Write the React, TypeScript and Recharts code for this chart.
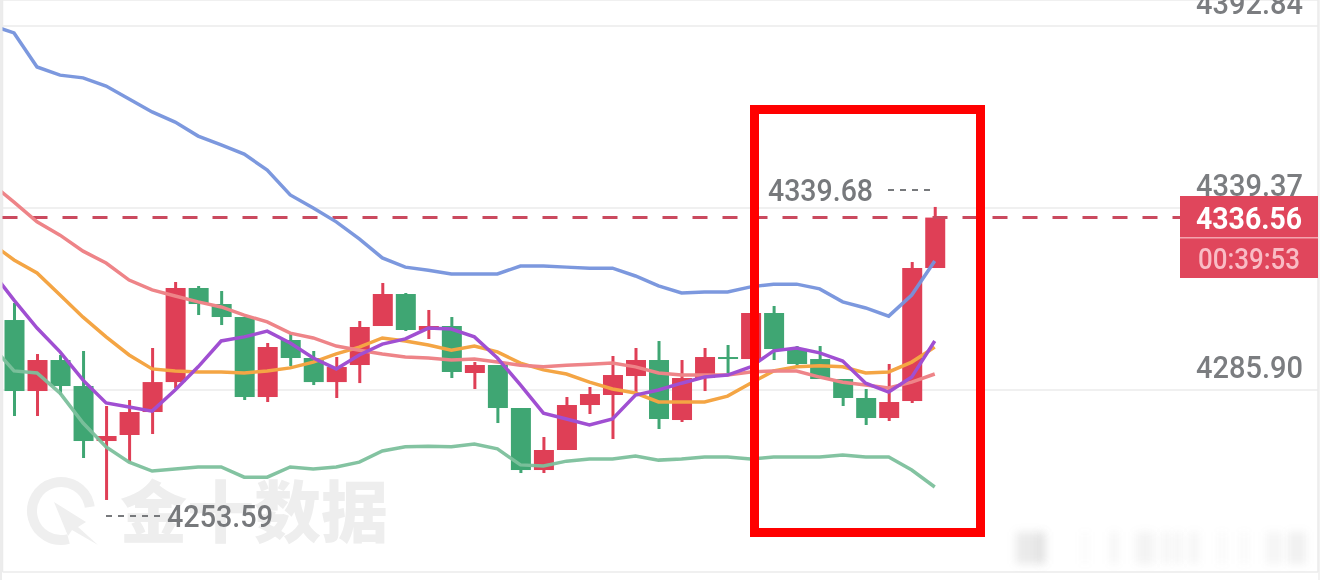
import { ComposedChart, Bar, Line, XAxis, YAxis, CartesianGrid, ReferenceLine } from 'recharts';

const priceTicks = [4392.84, 4339.37, 4285.9, 4232.43];
const gridSlots = [8, 23, 38];
const lastPrice = 4336.56;
const countdown = '00:39:53';
const highLabel = '4339.68';
const lowLabel = '4253.59';

const opens = [
  4306.46, 4285.6, 4294.71, 4287.07, 4270.91, 4272.68, 4279.43, 4288.23, 4315.87, 4311.16, 4307.34,
  4283.84, 4300.59, 4295.3, 4288.23, 4293.24, 4304.7, 4314.1, 4303.53, 4304.7, 4290.89, 4293.24,
  4280.61, 4262.39, 4268.27, 4281.49, 4284.43, 4290.01, 4294.71, 4277.08, 4289.42, 4295.59, 4295.0,
  4308.52, 4297.94, 4295.0, 4289.13, 4283.55, 4277.67, 4282.66, 4321.74,
];
const closes = [
  4285.6, 4294.71, 4287.07, 4270.91, 4272.38, 4279.43, 4288.23, 4315.87, 4311.16, 4307.34, 4283.84,
  4298.53, 4295.3, 4288.23, 4292.65, 4304.41, 4314.1, 4303.53, 4304.7, 4291.19, 4293.24, 4280.61,
  4262.39, 4268.27, 4281.49, 4284.72, 4290.3, 4294.71, 4277.38, 4289.42, 4295.59, 4295.0, 4308.52,
  4297.94, 4293.54, 4289.13, 4283.55, 4277.67, 4282.37, 4321.74, 4336.56,
];
const highs = [
  4311.46, 4296.47, 4296.18, 4297.36, 4281.2, 4282.96, 4298.24, 4317.63, 4316.45, 4314.98, 4307.34,
  4299.71, 4302.65, 4297.36, 4295.59, 4306.17, 4317.34, 4314.4, 4309.41, 4307.34, 4294.12, 4293.24,
  4280.61, 4272.09, 4283.84, 4286.78, 4295.89, 4298.24, 4300.29, 4294.71, 4298.24, 4299.12, 4308.52,
  4310.58, 4298.82, 4298.82, 4289.13, 4286.19, 4293.54, 4323.5, 4339.68,
];
const lows = [
  4278.26, 4278.26, 4284.43, 4265.92, 4253.59, 4264.74, 4272.97, 4286.48, 4307.93, 4304.99, 4282.96,
  4282.37, 4292.95, 4287.36, 4283.55, 4287.94, 4304.7, 4303.23, 4300.88, 4289.42, 4286.19, 4276.2,
  4261.51, 4261.51, 4268.27, 4278.85, 4271.5, 4285.02, 4274.44, 4276.5, 4285.6, 4290.89, 4295.0,
  4294.71, 4292.36, 4289.13, 4281.2, 4275.62, 4276.79, 4282.08, 4321.74,
];

// line series start one candle earlier, off the left edge of the picture
const upperBand = [
  4393.1, 4390.8, 4380.8, 4378.4, 4377.6, 4375.2, 4371.4, 4367.6, 4364.6, 4360.5, 4357.9, 4355.2,
  4350.5, 4343.2, 4339.4, 4335.3, 4330.3, 4324.7, 4322.0, 4321.1, 4320.0, 4320.0, 4320.0, 4322.3,
  4322.3, 4322.0, 4321.7, 4321.7, 4319.4, 4316.5, 4314.4, 4314.7, 4314.7, 4316.2, 4317.0, 4317.0,
  4315.6, 4311.8, 4310.0, 4307.6, 4313.8, 4323.8,
];
const lowerBand = [
  4299.1, 4291.5, 4290.9, 4285.0, 4276.2, 4269.2, 4264.7, 4262.1, 4262.7, 4263.3, 4263.3, 4260.3,
  4260.3, 4263.3, 4262.7, 4263.3, 4264.7, 4268.0, 4269.2, 4269.4, 4269.2, 4270.0, 4268.6, 4263.9,
  4263.6, 4265.0, 4265.6, 4265.6, 4266.5, 4265.3, 4265.6, 4266.2, 4266.2, 4265.6, 4266.2, 4266.2,
  4266.2, 4266.8, 4266.2, 4266.2, 4262.4, 4257.4,
];
const maFast = [
  4321.1, 4312.3, 4304.1, 4297.1, 4288.8, 4282.1, 4280.9, 4279.7, 4285.9, 4292.7, 4300.3, 4301.5,
  4303.2, 4299.7, 4295.3, 4292.1, 4296.2, 4299.4, 4300.9, 4304.1, 4303.8, 4301.5, 4295.3, 4287.4,
  4279.1, 4277.4, 4275.6, 4277.4, 4284.4, 4285.9, 4287.9, 4289.7, 4290.3, 4292.7, 4297.4, 4298.2,
  4296.8, 4294.4, 4287.9, 4285.3, 4289.7, 4300.3,
];
const maMid = [
  4329.1, 4324.1, 4320.3, 4313.8, 4307.3, 4301.5, 4296.2, 4292.1, 4291.5, 4291.2, 4291.2, 4290.9,
  4291.5, 4292.4, 4294.1, 4296.5, 4298.5, 4301.2, 4300.3, 4299.1, 4297.6, 4298.8, 4297.1, 4293.8,
  4291.8, 4290.6, 4288.2, 4286.2, 4285.0, 4282.4, 4282.4, 4282.4, 4284.1, 4287.9, 4291.5, 4292.7,
  4293.0, 4292.7, 4290.9, 4291.2, 4294.1, 4298.5,
];
const maSlow = [
  4346.7, 4341.1, 4335.3, 4331.4, 4326.7, 4323.2, 4318.2, 4315.3, 4313.5, 4311.8, 4310.3, 4307.9,
  4305.9, 4302.6, 4301.2, 4298.8, 4297.6, 4296.5, 4295.6, 4295.3, 4294.7, 4295.0, 4294.1, 4293.2,
  4292.7, 4293.2, 4293.5, 4293.8, 4292.7, 4290.9, 4290.3, 4290.3, 4290.3, 4291.2, 4291.5, 4291.5,
  4289.7, 4288.2, 4287.4, 4286.5, 4288.2, 4290.6,
];

const rows = upperBand.map((upper, i) => ({
  slot: i - 1,
  open: i > 0 ? opens[i - 1] : null,
  close: i > 0 ? closes[i - 1] : null,
  high: i > 0 ? highs[i - 1] : null,
  low: i > 0 ? lows[i - 1] : null,
  upper,
  lower: lowerBand[i],
  fast: maFast[i],
  mid: maMid[i],
  slow: maSlow[i],
}));

const UP = '#df3f56';
const DOWN = '#3fa673';
const DIN = 'Roboto, sans-serif';

function Candle(props: any) {
  const { x, y, width, height, payload } = props;
  if (payload.high == null || payload.low == null) return null;
  const { open, close, high, low } = payload;
  const top = Math.min(y, y + height);
  const perUnit = Math.abs(height) / (high - low);
  const color = close >= open ? UP : DOWN;
  const bodyTop = top + (high - Math.max(open, close)) * perUnit;
  const bodyH = Math.max(Math.abs(open - close) * perUnit, 2);
  return (
    <g>
      <rect x={x + width / 2 - 1.5} y={top} width={3} height={Math.abs(height)} fill={color} />
      <rect x={x} y={bodyTop} width={width} height={bodyH} fill={color} />
    </g>
  );
}

function PriceTick(props: any) {
  const { y, payload } = props;
  // the bottom grid line carries no label in the picture
  if (payload.value === priceTicks[priceTicks.length - 1]) return <g />;
  return (
    <text
      x={1303}
      y={y - 12}
      textAnchor="end"
      fontFamily={DIN}
      fontWeight={500}
      fontSize={32}
      fill="#7b7d80"
      textLength={107}
      lengthAdjust="spacingAndGlyphs"
    >
      {payload.value.toFixed(2)}
    </text>
  );
}

function Watermark() {
  return (
    <svg width={1320} height={580} style={{ position: 'absolute', left: 0, top: 0 }}>
      <circle cx={61} cy={511} r={29} fill="none" stroke="#efefef" strokeWidth={10} strokeDasharray="140 42" transform="rotate(75 61 511)" />
      <path d="M54 502 L86 522 L78 527 L98 545 L72 530 L68 536 Z" fill="#efefef" />
      <text x={120} y={537} fontFamily="'Noto Sans CJK SC'" fontWeight={900} fontSize={67} fill="#eeeeee">
        金十数据
      </text>
    </svg>
  );
}

function Overlay() {
  return (
    <svg width={1320} height={580} style={{ position: 'absolute', left: 0, top: 0 }}>
      <text x={768} y={201} fontFamily={DIN} fontWeight={500} fontSize={32} fill="#77797c" textLength={105} lengthAdjust="spacingAndGlyphs">
        {highLabel}
      </text>
      <line x1={888} y1={190} x2={930} y2={190} stroke="#77797c" strokeWidth={2.2} strokeDasharray="6 6" />
      <text x={167} y={527} fontFamily={DIN} fontWeight={500} fontSize={32} fill="#77797c" textLength={106} lengthAdjust="spacingAndGlyphs">
        {lowLabel}
      </text>
      <line x1={106} y1={516} x2={162} y2={516} stroke="#77797c" strokeWidth={2.2} strokeDasharray="6 6" />
      <rect x={1180} y={196} width={138} height={82} fill="#e0465c" />
      <rect x={1180} y={237} width={138} height={1.5} fill="#f3a4ae" />
      <text x={1196} y={229} fontFamily={DIN} fontWeight={700} fontSize={32} fill="#ffffff" textLength={106} lengthAdjust="spacingAndGlyphs">
        {lastPrice.toFixed(2)}
      </text>
      <text x={1198} y={269} fontFamily={DIN} fontWeight={500} fontSize={30} fill="#f9bcc5" textLength={102} lengthAdjust="spacingAndGlyphs">
        {countdown}
      </text>
    </svg>
  );
}

// the blurred-out stamp in the bottom right corner
const smudges = [
  [1016, 28, 0.13], [1038, 8, 0.08], [1082, 6, 0.04], [1110, 8, 0.06], [1136, 18, 0.07], [1162, 8, 0.06],
  [1174, 8, 0.06], [1190, 8, 0.07], [1218, 8, 0.04], [1240, 8, 0.04], [1266, 16, 0.06], [1288, 18, 0.09],
];

export default function App() {
  return (
    <div style={{ position: 'absolute', left: 0, top: 0, width: 1320, height: 580, background: '#fff', overflow: 'hidden', filter: 'blur(0.5px)' }}>
      <Watermark />
      <div style={{ position: 'absolute', left: 0, top: 0, width: 2, height: 580, background: '#ececec' }} />
      <div style={{ position: 'absolute', left: 1318, top: 0, width: 2, height: 580, background: '#f2f2f2' }} />
      <div style={{ position: 'absolute', left: 0, top: 0 }}>
        <ComposedChart width={1320} height={580} data={rows} margin={{ top: 0, right: 0, bottom: 8, left: 2.5 }}>
          <CartesianGrid stroke="#ebebeb" strokeWidth={1.5} />
          <XAxis
            dataKey="slot"
            type="number"
            domain={[-0.5, 56.65]}
            allowDataOverflow
            ticks={gridSlots}
            interval={0}
            tick={false}
            tickLine={false}
            axisLine={false}
            height={0}
          />
          <YAxis
            orientation="right"
            type="number"
            domain={[4232.43, 4400.48]}
            allowDataOverflow
            ticks={priceTicks}
            interval={0}
            tick={<PriceTick />}
            tickLine={false}
            axisLine={false}
            width={2}
          />
          <Bar dataKey={(d: any) => (d.high == null ? null : [d.low, d.high])} barSize={20} shape={<Candle />} isAnimationActive={false} />
          <ReferenceLine
            segment={[{ x: -0.5, y: lastPrice }, { x: 56.65, y: lastPrice }]}
            stroke="#cb4a5f"
            strokeWidth={3}
            strokeDasharray="15 15"
          />
          <Line dataKey="upper" stroke="#7592dc" strokeWidth={3.5} strokeOpacity={0.95} dot={false} isAnimationActive={false} />
          <Line dataKey="lower" stroke="#7cc09c" strokeWidth={3.5} strokeOpacity={0.95} dot={false} isAnimationActive={false} />
          <Line dataKey="mid" stroke="#f4a544" strokeWidth={3.5} dot={false} isAnimationActive={false} />
          <Line dataKey="slow" stroke="#ee8488" strokeWidth={3.5} dot={false} isAnimationActive={false} />
          <Line dataKey="fast" stroke="#a04fd2" strokeWidth={3.5} dot={false} isAnimationActive={false} />
        </ComposedChart>
      </div>
      <Overlay />
      {smudges.map(([left, width, alpha]) => (
        <div
          key={left}
          style={{ position: 'absolute', left, top: 532, width, height: 32, background: `rgba(90,90,90,${alpha})`, filter: 'blur(4px)' }}
        />
      ))}
      <div style={{ position: 'absolute', left: 750, top: 105, width: 235, height: 432, boxSizing: 'border-box', border: '9.5px solid #ff0000' }} />
    </div>
  );
}
